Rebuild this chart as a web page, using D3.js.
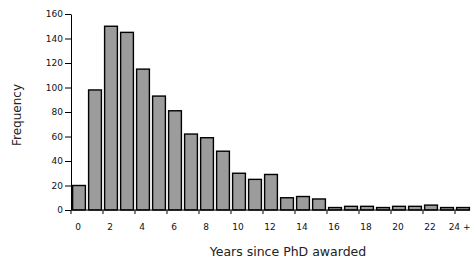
<!DOCTYPE html>
<html>
<head>
  <style>
    body { margin: 0; background: #fff; }
    text { font-family: "DejaVu Sans", sans-serif; }
  </style>
</head>
<body>
  <script src="https://d3js.org/d3.v7.min.js"></script>
  <script>
// Years since PhD (0..24+) and how many people fall in each
var years = d3.range(0, 25);
var frequency = [20, 98, 150, 145, 115, 93, 81, 62, 59, 48, 30, 25, 29, 10, 11, 9, 2, 3, 3, 2, 3, 3, 4, 2, 2];
var xLabels = ["0", "2", "4", "6", "8", "10", "12", "14", "16", "18", "20", "22", "24 +"];
var yTicks = [0, 20, 40, 60, 80, 100, 120, 140, 160];

var width = 471, height = 262;

var svg = d3.select("body")
  .append("svg")
  .attr("width", width)
  .attr("height", height);

var xScale = d3.scaleBand()
  .domain(years)
  .range([71, 471])
  .paddingInner(0.2)
  .paddingOuter(0.1);

var yScale = d3.scaleLinear()
  .domain([0, 160])
  .range([210, 14]);

// bars
svg.selectAll("rect.bar")
  .data(frequency)
  .enter()
  .append("rect")
  .attr("class", "bar")
  .attr("x", function(d, i) { return xScale(years[i]); })
  .attr("y", function(d) { return yScale(d); })
  .attr("width", xScale.bandwidth())
  .attr("height", function(d) { return yScale(0) - yScale(d); })
  .attr("fill", "#9c9c9c")
  .attr("stroke", "#000")
  .attr("stroke-width", 1.4);

// y axis
var yAxis = d3.axisLeft(yScale)
  .tickValues(yTicks)
  .tickSize(6)
  .tickPadding(2)
  .tickSizeOuter(0);

var gy = svg.append("g")
  .attr("transform", "translate(71,0)")
  .call(yAxis);
gy.selectAll("text")
  .attr("font-size", 9)
  .attr("fill", "#111")
  .style("font-family", "'DejaVu Sans', sans-serif");
gy.selectAll("line, path").attr("stroke", "#000");

// x axis: line, ticks between every second pair of bars, labels under even years
var gx = svg.append("g");
var half = xScale.step() * xScale.paddingInner() / 2;

gx.append("line")
  .attr("x1", 71).attr("x2", 470)
  .attr("y1", yScale(0)).attr("y2", yScale(0))
  .attr("stroke", "#000");

gx.selectAll("line.tick")
  .data(years.filter(function(y) { return y % 2 == 0; }))
  .enter()
  .append("line")
  .attr("class", "tick")
  .attr("x1", function(y) { return xScale(y) - half; })
  .attr("x2", function(y) { return xScale(y) - half; })
  .attr("y1", yScale(0))
  .attr("y2", yScale(0) + 4)
  .attr("stroke", "#000");

var last = xLabels.length - 1;
gx.selectAll("text")
  .data(xLabels)
  .enter()
  .append("text")
  // the last label ("24 +") sits against the right edge
  .attr("x", function(d, i) {
    return i == last ? width - 0.5 : xScale(i * 2) + xScale.bandwidth() / 2 - 1;
  })
  .attr("y", 230)
  .attr("text-anchor", function(d, i) { return i == last ? "end" : "middle"; })
  .attr("font-size", 9)
  .attr("fill", "#111")
  .text(function(d) { return d; });

// axis titles
svg.append("text")
  .attr("x", 288)
  .attr("y", 256)
  .attr("text-anchor", "middle")
  .attr("font-size", 12.5)
  .attr("fill", "#222")
  .text("Years since PhD awarded");

svg.append("text")
  .attr("x", -115)
  .attr("y", 21)
  .attr("text-anchor", "middle")
  .attr("transform", "rotate(-90)")
  .attr("font-size", 12)
  .attr("fill", "#222")
  .text("Frequency");
  </script>
</body>
</html>
